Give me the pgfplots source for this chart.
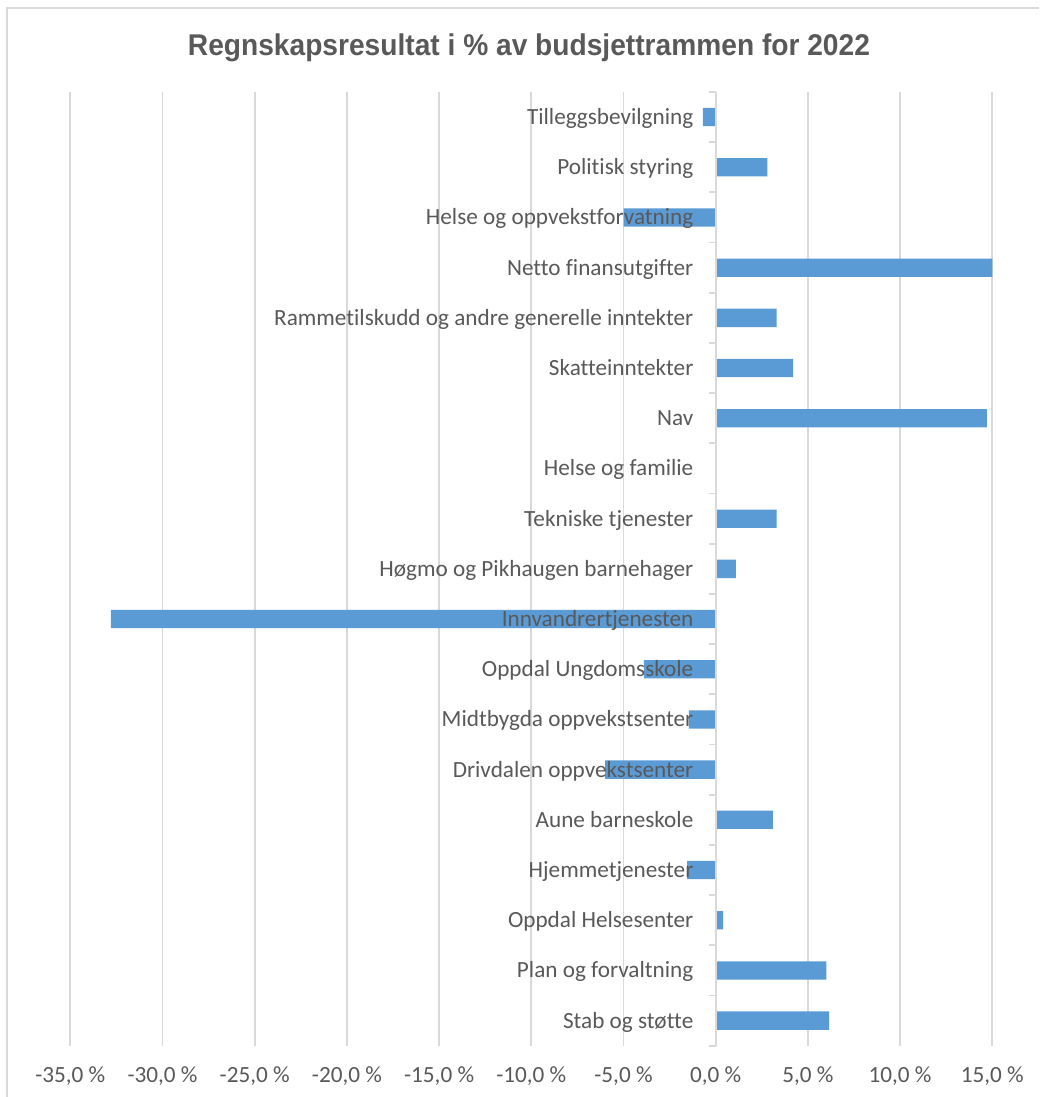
\documentclass[border=0pt]{standalone}
\usepackage{fontspec}
\setmainfont{Carlito}[Ligatures={NoCommon,NoContextual}]
\newfontfamily\titlefont{Liberation Sans}
\usepackage{graphicx}
\usepackage{pgfplots}
\pgfplotsset{compat=1.18}
\usepackage{pgfplotstable}
\definecolor{bar}{HTML}{5B9BD5}
\definecolor{txt}{HTML}{595959}
\definecolor{grd}{HTML}{D9D9D9}
\tikzset{lab/.style={anchor=base east, xshift=-11pt, yshift=-3.7pt, inner sep=0pt, text=txt, font=\fontsize{11.6pt}{13pt}\selectfont}}

\pgfplotstableread{
i v
0 -0.7
1 2.8
2 -5.0
3 15.0
4 3.3
5 4.2
6 14.7
7 0
8 3.3
9 1.1
10 -32.8
11 -3.9
12 -1.45
13 -6.0
14 3.1
15 -1.55
16 0.4
17 6.0
18 6.15
}\data

\begin{document}
\begin{tikzpicture}
\useasboundingbox (0,0) rectangle (519.5pt,548.5pt);
\fill[white] (0,0) rectangle (519.5pt,548.5pt);
\draw[grd, line width=1pt] (3.5pt,0) -- (3.5pt,544.5pt) -- (519.5pt,544.5pt);
\node[anchor=base, text=txt, inner sep=0pt] at (264.5pt,520.5pt) {\resizebox{341pt}{\height}{\titlefont\bfseries\fontsize{15pt}{18pt}\selectfont Regnskapsresultat i \% av budsjettrammen for 2022}};
\begin{axis}[
  at={(35.15pt,25.65pt)}, anchor=south west,
  scale only axis, width=461pt, height=476.85pt,
  xmin=-35, xmax=15, ymin=-0.5, ymax=18.5, y dir=reverse,
  axis line style={draw=none}, tick style={draw=none}, major tick length=0pt,
  xtick={-35,-30,-25,-20,-15,-10,-5,0,5,10,15},
  xticklabels={{-35,0 \%},{-30,0 \%},{-25,0 \%},{-20,0 \%},{-15,0 \%},{-10,0 \%},{-5,0 \%},{0,0 \%},{5,0 \%},{10,0 \%},{15,0 \%}},
  ytick=\empty,
  xmajorgrids, grid style={grd, line width=0.9pt},
  tick label style={font=\fontsize{11.6pt}{13pt}\selectfont, text=txt},
  xticklabel style={anchor=base, yshift=-18.2pt, inner sep=0pt},
  xbar, bar width=9.15pt, bar shift=0pt,
  clip=false,
]
\addplot[fill=bar, draw=none] table[x=v, y=i] {\data};
\draw[grd, line width=1pt] (axis cs:0,-0.5) -- (axis cs:0,18.5);
\pgfplotsinvokeforeach{-0.5,0.5,1.5,2.5,3.5,4.5,5.5,6.5,7.5,8.5,9.5,10.5,11.5,12.5,13.5,14.5,15.5,16.5,17.5,18.5}{\draw[grd, line width=0.9pt] (axis cs:0,#1) -- ([xshift=-3.5pt]axis cs:0,#1);}
\node[lab] at (axis cs:0,0) {Tilleggsbevilgning};
\node[lab] at (axis cs:0,1) {Politisk styring};
\node[lab] at (axis cs:0,2) {Helse og oppvekstforvatning};
\node[lab] at (axis cs:0,3) {Netto finansutgifter\ };
\node[lab] at (axis cs:0,4) {Rammetilskudd og andre generelle inntekter};
\node[lab] at (axis cs:0,5) {Skatteinntekter};
\node[lab] at (axis cs:0,6) {Nav};
\node[lab] at (axis cs:0,7) {Helse og familie};
\node[lab] at (axis cs:0,8) {Tekniske tjenester};
\node[lab] at (axis cs:0,9) {Høgmo og Pikhaugen barnehager};
\node[lab] at (axis cs:0,10) {Innvandrertjenesten};
\node[lab] at (axis cs:0,11) {Oppdal Ungdomsskole};
\node[lab] at (axis cs:0,12) {Midtbygda oppvekstsenter};
\node[lab] at (axis cs:0,13) {Drivdalen oppvekstsenter};
\node[lab] at (axis cs:0,14) {Aune barneskole};
\node[lab] at (axis cs:0,15) {Hjemmetjenester};
\node[lab] at (axis cs:0,16) {Oppdal Helsesenter};
\node[lab] at (axis cs:0,17) {Plan og forvaltning};
\node[lab] at (axis cs:0,18) {Stab og støtte};
\end{axis}
\end{tikzpicture}
\end{document}
